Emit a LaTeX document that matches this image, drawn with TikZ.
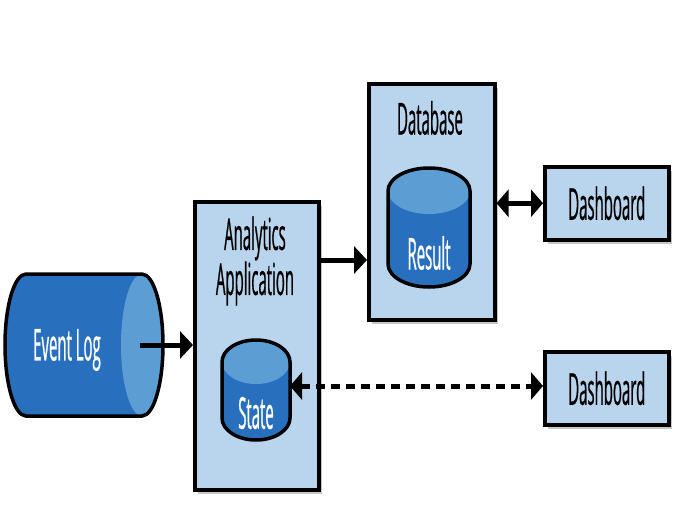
\documentclass[tikz,border=0pt]{standalone}
\usepackage{fontspec}
\setmainfont{Open Sans}[FakeStretch=0.34, FakeBold=0.5]
\usetikzlibrary{arrows.meta,shadows}
\definecolor{boxfill}{RGB}{185,213,237}
\definecolor{cyldark}{RGB}{40,112,190}
\definecolor{cyllight}{RGB}{92,158,212}
\begin{document}
\begin{tikzpicture}[x=1pt,y=-1pt,
  box/.style={draw=black, line width=3.5pt, fill=boxfill, inner sep=0pt,
    drop shadow={shadow xshift=3pt, shadow yshift=-4pt, opacity=0.45}},
  lbl/.style={font=\fontsize{44}{45}\selectfont, align=center, inner sep=0pt, text=black},
  wlbl/.style={lbl, text=white},
  cylbody/.style={fill=cyldark},
  cylface/.style={fill=cyllight},
  cyledge/.style={draw=black, line width=3.5pt},
  arr/.style={line width=5pt, -{Triangle[length=13pt,width=27pt]}},
  darr/.style={line width=5pt, {Triangle[length=12pt,width=27pt]}-{Triangle[length=12pt,width=27pt]}},
  dasharr/.style={darr, dash pattern=on 9pt off 6pt}]
\useasboundingbox (0,0) rectangle (677,506);

% boxes
\node[box, minimum width=124pt, minimum height=288pt, anchor=north west] (app) at (193,200) {};
\node[box, minimum width=126pt, minimum height=236pt, anchor=north west] (db) at (367,82) {};
\node[box, minimum width=124pt, minimum height=73pt, anchor=north west] (dash1) at (543,165) {};
\node[box, minimum width=124pt, minimum height=73pt, anchor=north west] (dash2) at (543,350) {};

\node[lbl] (apptitle) at (255,261) {Analytics\\Application};
\node[lbl] (dbtitle) at (430,118) {Database};
\node[lbl] (d1text) at (dash1.center) {Dashboard};
\node[lbl] (d2text) at (dash2.center) {Dashboard};

% Event Log cylinder (horizontal)
\path[cylbody] (142,274) -- (26,274) arc[start angle=90, end angle=270, x radius=21pt, y radius=71pt]
  -- (142,416) arc[start angle=270, end angle=450, x radius=21pt, y radius=71pt] -- cycle;
\path[cylface] (142,345) ellipse[x radius=21pt, y radius=71pt];
\path[cyledge] (142,274) -- (26,274) arc[start angle=90, end angle=270, x radius=21pt, y radius=71pt]
  -- (142,416) arc[start angle=270, end angle=450, x radius=21pt, y radius=71pt] -- cycle;
\node[wlbl] (evlog) at (67,350) {Event Log};
\coordinate (evout) at (140,345);

% State cylinder
\path[cylbody] (222,362) -- (222,418) arc[start angle=180, end angle=360, x radius=34pt, y radius=22pt]
  -- (290,362) arc[start angle=0, end angle=180, x radius=34pt, y radius=22pt] -- cycle;
\path[cylface] (256,362) ellipse[x radius=34pt, y radius=22pt];
\path[cyledge] (222,362) -- (222,418) arc[start angle=180, end angle=360, x radius=34pt, y radius=22pt]
  -- (290,362) arc[start angle=0, end angle=180, x radius=34pt, y radius=22pt] -- cycle;
\node[wlbl] (state) at (256,413) {State};
\coordinate (stateR) at (290,386);

% Result cylinder
\path[cylbody] (388,191) -- (388,264) arc[start angle=180, end angle=360, x radius=41pt, y radius=23pt]
  -- (470,191) arc[start angle=0, end angle=180, x radius=41pt, y radius=23pt] -- cycle;
\path[cylface] (429,191) ellipse[x radius=41pt, y radius=23pt];
\path[cyledge] (388,191) -- (388,264) arc[start angle=180, end angle=360, x radius=41pt, y radius=23pt]
  -- (470,191) arc[start angle=0, end angle=180, x radius=41pt, y radius=23pt] -- cycle;
\node[wlbl] (result) at (429,253) {Result};

% connectors
\coordinate (appout) at (317,260);
\draw[arr] (evout) -- (evout -| app.west);
\draw[arr] (appout) -- (appout -| db.west);
\draw[darr] (dash1.west -| db.east) -- (dash1.west);
\draw[dasharr] (stateR) -- (stateR -| dash2.west);
\end{tikzpicture}
\end{document}
